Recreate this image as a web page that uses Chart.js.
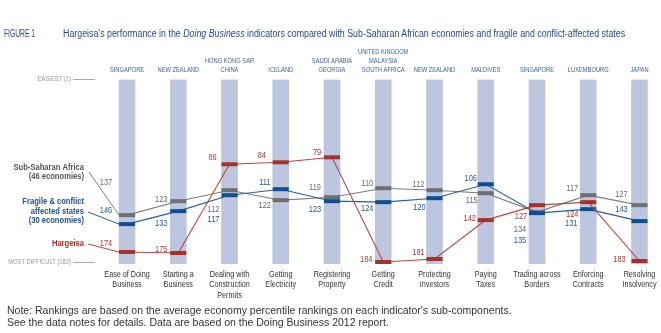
<!DOCTYPE html>
<html>
<head>
<meta charset="utf-8">
<script src="https://cdn.jsdelivr.net/npm/chart.js@4.4.0/dist/chart.umd.min.js"></script>
<style>
  html, body { margin: 0; padding: 0; background: #fff; }
  #wrap { position: relative; width: 661px; height: 333px; overflow: hidden; }
  #chart { position: absolute; left: 0; top: 0; }
  .title { position: absolute; top: 28px; white-space: nowrap; color: #274b86; transform-origin: 0 0;
           font: 10px 'Liberation Sans', Arial, sans-serif; }
  .note { position: absolute; left: 7px; top: 304px; color: #333; line-height: 13px;
          font: 10.5px 'Liberation Sans', Arial, sans-serif; }
</style>
</head>
<body>
<div id="wrap">
  <canvas id="chart" width="661" height="333"></canvas>
  <div class="title" data-w="31" style="left:4px">FIGURE 1</div>
  <div class="title" data-w="562" style="left:63px">Hargeisa’s performance in the <i>Doing Business</i> indicators compared with Sub-Saharan African economies and fragile and conflict-affected states</div>
  <div class="note">Note: Rankings are based on the average economy percentile rankings on each indicator's sub-components.<br>See the data notes for details. Data are based on the Doing Business 2012 report.</div>
</div>
<script>
// indicators (bottom) and best-performing economy per indicator (top)
const indicators = [
    ['Ease of Doing', 'Business'], ['Starting a', 'Business'], ['Dealing with', 'Construction', 'Permits'],
    ['Getting', 'Electricity'], ['Registering', 'Property'], ['Getting', 'Credit'],
    ['Protecting', 'Investors'], ['Paying', 'Taxes'], ['Trading across', 'Borders'],
    ['Enforcing', 'Contracts'], ['Resolving', 'Insolvency']
];
const topEconomies = [
    ['SINGAPORE'], ['NEW ZEALAND'], ['HONG KONG SAR', 'CHINA'], ['ICELAND'], ['SAUDI ARABIA', 'GEORGIA'],
    ['UNITED KINGDOM', 'MALAYSIA', 'SOUTH AFRICA'], ['NEW ZEALAND'], ['MALDIVES'], ['SINGAPORE'],
    ['LUXEMBOURG'], ['JAPAN']
];

// rankings (1 = easiest, 183 = most difficult)
const ssaRanks      = [137, 123, 112, 122, 119, 110, 112, 115, 134, 117, 127];
const fragileRanks  = [146, 133, 117, 111, 123, 124, 120, 106, 135, 131, 143];
const hargeisaRanks = [174, 175,  86,  84,  79, 184, 181, 142, 127, 124, 183];
const rankRange = [1, 186];

// where each number label sits relative to its mark [dx, dy]
const ssaLabelPos      = [[-21,-33],[-17,-2],[-16,19],[-16,5],[-17,-10],[-16,-5],[-16,-6],[-14,7],[-17,17],[-16,-7],[-18,-11]];
const fragileLabelPos  = [[-21,-14],[-17,12],[-16,24],[-16,-7],[-17,8],[-16,6],[-15,9],[-15,-6],[-17,27],[-17,14],[-18,-12]];
const hargeisaLabelPos = [[-21,-9],[-17,-4],[-17,-7],[-19,-7],[-15,-5],[-17,-3],[-16,-7],[-16,-2],[-16,11],[-16,12],[-20,-2]];

const FONT = "'Liberation Sans', Arial, sans-serif";

const series = [
    { ranks: ssaRanks, pos: ssaLabelPos, mark: '#6f6f70', line: '#7d7d7e', text: '#6a6a6a' },
    { ranks: fragileRanks, pos: fragileLabelPos, mark: '#0d4f92', line: '#2a5d9c', text: '#1f5599' },
    { ranks: hargeisaRanks, pos: hargeisaLabelPos, mark: '#a2322a', line: '#b2483f', text: '#a63a30' }
];

// squeeze the title to the condensed width of the original
document.querySelectorAll('.title').forEach(el => {
    el.style.transform = 'scaleX(' + (el.dataset.w / el.scrollWidth) + ')';
});

// narrow text helper (no condensed face installed)
function narrowText(ctx, text, x, y, sx) {
    ctx.save();
    ctx.translate(x, y);
    ctx.scale(sx, 1);
    ctx.fillText(text, 0, 0);
    ctx.restore();
}

const annotations = {
    id: 'annotations',
    afterDatasetsDraw(chart) {
        const ctx = chart.ctx;
        const xs = chart.scales.x, ys = chart.scales.y;
        ctx.save();
        ctx.textBaseline = 'middle';

        // value labels
        ctx.font = '9.5px ' + FONT;
        ctx.textAlign = 'center';
        series.forEach(s => {
            ctx.fillStyle = s.text;
            s.ranks.forEach((r, i) => {
                const [dx, dy] = s.pos[i];
                narrowText(ctx, String(r), xs.getPixelForValue(i) + dx, ys.getPixelForValue(r) + dy, 0.78);
            });
        });

        // indicator names under the bars
        ctx.font = '9.5px ' + FONT;
        ctx.fillStyle = '#333';
        indicators.forEach((lines, i) => {
            lines.forEach((t, k) => narrowText(ctx, t, xs.getPixelForValue(i), chart.chartArea.bottom + 10 + k * 10.5, 0.76));
        });

        // best economy above the bars
        ctx.font = '7.2px ' + FONT;
        ctx.fillStyle = '#3a63a6';
        topEconomies.forEach((lines, i) => {
            const n = lines.length;
            lines.forEach((t, k) => narrowText(ctx, t, xs.getPixelForValue(i), chart.chartArea.top - 9.5 - (n - 1 - k) * 9, 0.8));
        });

        // easiest / most difficult
        ctx.font = '7px ' + FONT;
        ctx.fillStyle = '#9a9a9a';
        ctx.strokeStyle = '#9a9a9a';
        ctx.lineWidth = 0.8;
        ctx.textAlign = 'right';
        [['EASIEST (1)', ys.getPixelForValue(1)], ['MOST DIFFICULT (183)', ys.getPixelForValue(183) + 1.5]].forEach(([t, y]) => {
            narrowText(ctx, t, 71, y, 0.83);
            ctx.beginPath();
            ctx.moveTo(73, y);
            ctx.lineTo(95, y);
            ctx.stroke();
        });

        // series names with leader lines to the first column
        const x0 = xs.getPixelForValue(0) - 8;
        const names = [
            { lines: ['Sub-Saharan Africa', '(46 economies)'], y: 167, from: [89, 172], s: series[0], color: '#555' },
            { lines: ['Fragile & conflict', 'affected states', '(30 economies)'], y: 201.5, from: [88, 212], s: series[1], color: '#1d4f91' },
            { lines: ['Hargeisa'], y: 243, from: [88, 244], s: series[2], color: '#a2322a' }
        ];
        ctx.font = 'bold 9.5px ' + FONT;
        names.forEach(n => {
            ctx.fillStyle = n.color;
            n.lines.forEach((t, k) => narrowText(ctx, t, 84, n.y + k * 9.5, 0.8));
            ctx.strokeStyle = n.s.line;
            ctx.lineWidth = 1;
            ctx.beginPath();
            ctx.moveTo(n.from[0], n.from[1]);
            ctx.lineTo(x0, ys.getPixelForValue(n.s.ranks[0]));
            ctx.stroke();
        });
        ctx.restore();
    }
};

const datasets = series.map((s, k) => ({
    type: 'line',
    data: s.ranks.map((r, i) => ({ x: i, y: r })),
    borderColor: s.line,
    borderWidth: 1.1,
    pointStyle: 'line',
    pointRadius: 8,
    pointHoverRadius: 8,
    pointBorderWidth: 4,
    pointBorderColor: s.mark,
    pointBackgroundColor: s.mark,
    tension: 0,
    clip: false,
    order: 3 - k
}));

datasets.push({
    type: 'bar',
    data: indicators.map((_, i) => ({ x: i, y: rankRange })),
    backgroundColor: '#bcc6df',
    barThickness: 16,
    order: 10
});

new Chart(document.getElementById('chart'), {
    data: { datasets: datasets },
    options: {
        responsive: false,
        animation: false,
        events: [],
        layout: { autoPadding: false, padding: { left: 101.4, right: 0, top: 79.5, bottom: 69 } },
        plugins: { legend: { display: false }, tooltip: { enabled: false } },
        scales: {
            x: { type: 'linear', min: -0.5, max: 10.42, offset: false, display: false },
            y: { type: 'linear', reverse: true, min: rankRange[0], max: rankRange[1], display: false }
        }
    },
    plugins: [annotations]
});
</script>
</body>
</html>
